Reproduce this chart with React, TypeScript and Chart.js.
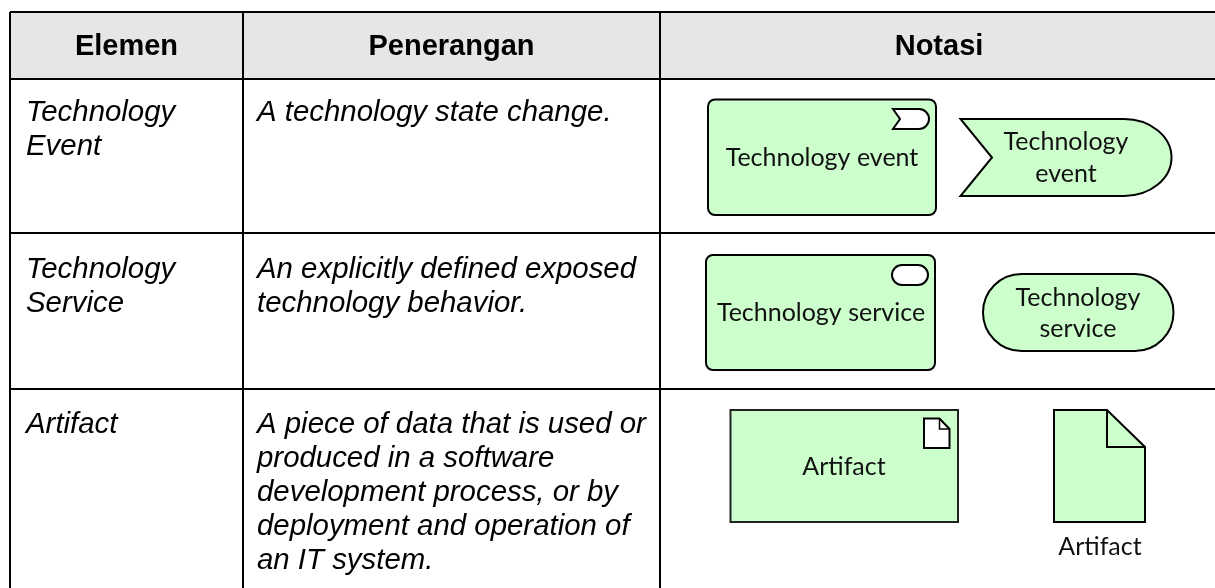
import React, { useEffect, useRef } from "react";
import { Chart, registerables } from "chart.js";

Chart.register(...registerables);

const columnEdges = [10, 243, 660];
const rowEdges = [12, 79, 233, 389];
const headers = ["Elemen", "Penerangan", "Notasi"];
const headerCentres = [126.5, 451.5, 939];
const HEADER_BASE = 55;
const elementLines = [
  { x: 26, y: 121, text: "Technology" },
  { x: 26, y: 155, text: "Event" },
  { x: 26, y: 278, text: "Technology" },
  { x: 26, y: 312, text: "Service" },
  { x: 26, y: 433, text: "Artifact" },
];
const descriptionLines = [
  { x: 257, y: 121, text: "A technology state change." },
  { x: 257, y: 278, text: "An explicitly defined exposed" },
  { x: 257, y: 312, text: "technology behavior." },
  { x: 257, y: 433, text: "A piece of data that is used or" },
  { x: 257, y: 467, text: "produced in a software" },
  { x: 257, y: 501, text: "development process, or by" },
  { x: 257, y: 535, text: "deployment and operation of" },
  { x: 257, y: 569, text: "an IT system." },
];
const notationLines = [
  { x: 822, y: 166, text: "Technology event" },
  { x: 1066, y: 150, text: "Technology" },
  { x: 1066, y: 182, text: "event" },
  { x: 821, y: 321, text: "Technology service" },
  { x: 1078, y: 306, text: "Technology" },
  { x: 1078, y: 337, text: "service" },
  { x: 844, y: 475, text: "Artifact" },
  { x: 1100, y: 555, text: "Artifact" },
];
const roundedBoxes = [
  { x0: 708, y0: 99.5, x1: 936, y1: 215, r: 7 },
  { x0: 706, y0: 255, x1: 935, y1: 370, r: 7 },
];
const plainBox = { x0: 730.5, y0: 410, x1: 958, y1: 522 };
const FILL = "#ccffcc";

function App() {
  const ref = useRef<HTMLCanvasElement>(null);
  useEffect(() => {
    document.body.style.margin = "0";
    const shapes = {
      id: "tableShapes",
      beforeDraw(chart: any) {
        const { ctx } = chart;
        const X = (v: number) => chart.scales.x.getPixelForValue(v);
        const Y = (v: number) => chart.scales.y.getPixelForValue(v);
        ctx.save();
        ctx.fillStyle = "#e6e6e6";
        ctx.fillRect(X(columnEdges[0]), Y(rowEdges[0]), X(1215) - X(columnEdges[0]), Y(rowEdges[1]) - Y(rowEdges[0]));
        ctx.restore();
      },
      beforeDatasetsDraw(chart: any) {
        const { ctx } = chart;
        const X = (v: number) => chart.scales.x.getPixelForValue(v);
        const Y = (v: number) => chart.scales.y.getPixelForValue(v);
        const poly = (pts: number[][], fill: string | null = FILL, lw = 2, col = "#000") => {
          ctx.beginPath();
          pts.forEach((p, i) => (i ? ctx.lineTo(X(p[0]), Y(p[1])) : ctx.moveTo(X(p[0]), Y(p[1]))));
          if (fill) { ctx.closePath(); ctx.fillStyle = fill; ctx.fill(); }
          ctx.lineWidth = lw;
          ctx.strokeStyle = col;
          ctx.stroke();
        };
        const round = (x0: number, y0: number, x1: number, y1: number, r: number, fill: string) => {
          ctx.beginPath();
          ctx.roundRect(X(x0), Y(y0), X(x1) - X(x0), Y(y1) - Y(y0), r);
          ctx.fillStyle = fill;
          ctx.fill();
          ctx.lineWidth = 2;
          ctx.strokeStyle = "#000";
          ctx.stroke();
        };
        ctx.save();
        roundedBoxes.forEach((b) => round(b.x0, b.y0, b.x1, b.y1, b.r, FILL));

        // event icon
        ctx.beginPath();
        ctx.moveTo(X(893), Y(109));
        ctx.lineTo(X(919), Y(109));
        ctx.arc(X(919), Y(119), 10, -Math.PI / 2, Math.PI / 2);
        ctx.lineTo(X(893), Y(129));
        ctx.lineTo(X(900), Y(119));
        ctx.closePath();
        ctx.fillStyle = "#fff"; ctx.fill(); ctx.lineWidth = 2; ctx.strokeStyle = "#000"; ctx.stroke();

        // event shape
        ctx.beginPath();
        ctx.moveTo(X(960.5), Y(119));
        ctx.lineTo(X(1124), Y(119));
        ctx.bezierCurveTo(X(1150), Y(119), X(1171.5), Y(136), X(1171.5), Y(157.5));
        ctx.bezierCurveTo(X(1171.5), Y(179), X(1150), Y(196), X(1124), Y(196));
        ctx.lineTo(X(960.5), Y(196));
        ctx.lineTo(X(992), Y(157.5));
        ctx.closePath();
        ctx.fillStyle = FILL; ctx.fill(); ctx.stroke();

        // service icon + service shape
        round(892, 265, 928, 285, 10, "#fff");
        round(983, 274, 1173.5, 351, 38.5, FILL);

        // artifact box + icon
        poly([[plainBox.x0, plainBox.y0], [plainBox.x1, plainBox.y0], [plainBox.x1, plainBox.y1], [plainBox.x0, plainBox.y1]], FILL, 2, "#222");
        poly([[924, 418.5], [939.5, 418.5], [949.5, 429], [949.5, 448], [924, 448]], "#fff");
        poly([[939.5, 418.5], [939.5, 429], [949.5, 429]], null, 1.5);

        // artifact document
        poly([[1054, 410], [1107, 410], [1145, 447], [1145, 522], [1054, 522]]);
        poly([[1107, 410], [1107, 447], [1145, 447]], null, 2);
        ctx.restore();
      },
      afterDatasetsDraw(chart: any) {
        const { ctx } = chart;
        const X = (v: number) => chart.scales.x.getPixelForValue(v);
        const Y = (v: number) => chart.scales.y.getPixelForValue(v);
        ctx.save();
        ctx.fillStyle = "#000";
        ctx.textBaseline = "alphabetic";
        ctx.textAlign = "center";
        ctx.font = 'bold 29px "Liberation Sans"';
        headers.forEach((h, i) => ctx.fillText(h, X(headerCentres[i]), Y(HEADER_BASE)));
        ctx.textAlign = "left";
        ctx.font = 'italic 29.4px "Liberation Sans"';
        [...elementLines, ...descriptionLines].forEach((l) => ctx.fillText(l.text, X(l.x), Y(l.y)));
        ctx.textAlign = "center";
        ctx.font = "25px Lato";
        ctx.fillStyle = "#111";
        notationLines.forEach((l) => ctx.fillText(l.text, X(l.x), Y(l.y)));
        ctx.restore();
      },
    };
    const gridOf = (edges: number[], min: number, max: number) => ({
      display: true,
      min,
      max,
      afterBuildTicks(scale: any) {
        scale.ticks = edges.map((value) => ({ value }));
      },
      ticks: { display: false },
      border: { display: false },
      grid: { color: "#000", lineWidth: 2, drawTicks: false },
    });
    const chart = new Chart(ref.current!, {
      type: "scatter",
      data: { datasets: [{ data: [], pointRadius: 0 }] },
      options: {
        animation: false,
        responsive: false,
        layout: { padding: { left: columnEdges[0], top: rowEdges[0], right: 0, bottom: 0 } },
        plugins: { legend: { display: false }, tooltip: { enabled: false } },
        scales: {
          x: { ...gridOf(columnEdges, columnEdges[0], 1215), type: "linear" },
          y: { ...gridOf(rowEdges, rowEdges[0], 588), type: "linear", reverse: true },
        },
      },
      plugins: [shapes],
    } as any);
    return () => chart.destroy();
  }, []);
  return <canvas ref={ref} width={1215} height={588} style={{ display: "block" }} />;
}

export default App;
